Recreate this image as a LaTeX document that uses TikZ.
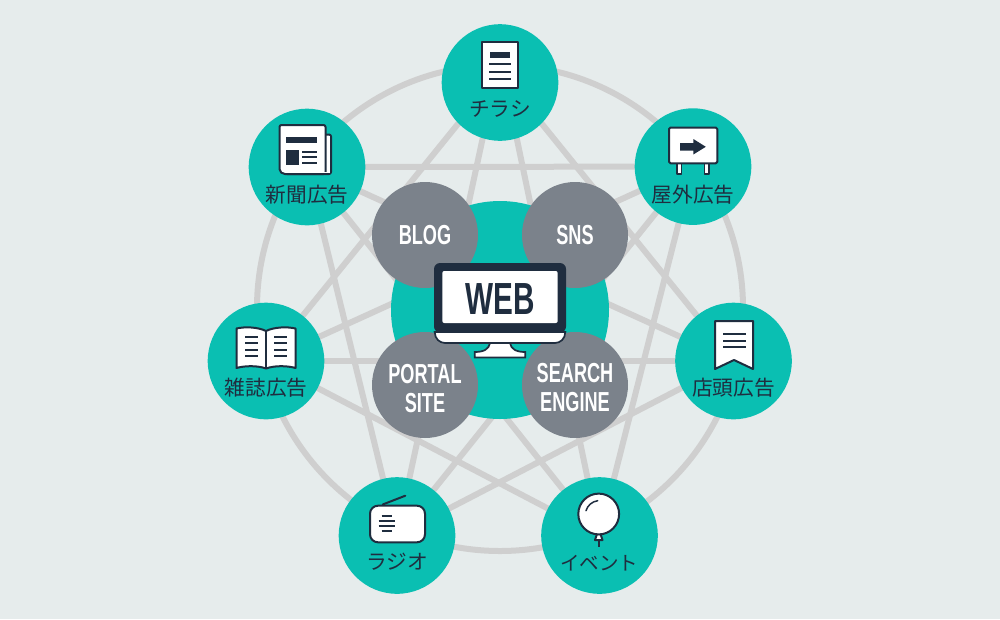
\documentclass[tikz,border=0pt]{standalone}
\usepackage{fontspec}
\setmainfont{Liberation Sans}
\newfontfamily\jpfont{Noto Sans CJK JP}
\newfontfamily\condfont[FakeStretch=0.66]{Liberation Sans Bold}
\usetikzlibrary{backgrounds}
\definecolor{bgc}{HTML}{E6ECEC}
\definecolor{tealc}{HTML}{0ABFB2}
\definecolor{grayc}{HTML}{7B828B}
\definecolor{darkc}{HTML}{1F2D3F}
\definecolor{linec}{HTML}{CFCFCF}
\tikzset{
  x=1pt,y=-1pt,
  medium/.style={circle,fill=tealc,minimum size=116.6pt,inner sep=0pt},
  hub/.style={circle,fill=tealc,minimum size=218pt,inner sep=0pt},
  blob/.style={circle,fill=grayc,minimum size=106pt,inner sep=0pt},
  ringnode/.style={circle,draw=linec,line width=6pt,minimum size=486pt,inner sep=0pt},
  chord/.style={draw=linec,line width=6pt},
  jplabel/.style={font=\jpfont\fontsize{20.7}{24}\selectfont,text=darkc,inner sep=0pt},
  blobtext/.style={font=\condfont\fontsize{27.5}{29}\selectfont,text=white,align=center,inner sep=0pt},
  ico/.style={draw=darkc,fill=white,line width=2pt,line join=round},
  icoline/.style={draw=darkc,line width=2pt},
  icofill/.style={fill=darkc},
}
\begin{document}
\begin{tikzpicture}
\useasboundingbox (0,0) rectangle (1000,619);

% media nodes
\node[medium] (flyer) at (500,82.5) {};
\node[medium] (sign) at (693,166.6) {};
\node[medium] (store) at (733.5,361) {};
\node[medium] (event) at (599.5,535.5) {};
\node[medium] (radio) at (397,535.5) {};
\node[medium] (magazine) at (266,361) {};
\node[medium] (newspaper) at (307,167) {};
\coordinate (flyerA) at (500,58);
\coordinate (flyerB) at (500,72);

% connectors behind everything
\begin{scope}[on background layer]
  \fill[bgc] (0,0) rectangle (1000,619);
  \node[ringnode] (ring) at (500,308) {};
  \draw[chord] (flyerB) -- (store.center);
  \draw[chord] (flyerA) -- (event.center);
  \draw[chord] (flyerA) -- (radio.center);
  \draw[chord] (flyerB) -- (magazine.center);
  \draw[chord] (sign.center) -- (event.center);
  \draw[chord] (sign.center) -- (radio.center);
  \draw[chord] (sign.center) -- (magazine.center);
  \draw[chord] (sign.center) -- (newspaper.center);
  \draw[chord] (store.center) -- (radio.center);
  \draw[chord] (store.center) -- (magazine.center);
  \draw[chord] (store.center) -- (newspaper.center);
  \draw[chord] (event.center) -- (magazine.center);
  \draw[chord] (event.center) -- (newspaper.center);
  \draw[chord] (radio.center) -- (newspaper.center);
\end{scope}

% centre
\node[hub] (web) at (500,310) {};
\node[blob] (blog) at (425,235) {};
\node[blob] (sns) at (575,235) {};
\node[blob] (portal) at (425,385) {};
\node[blob] (search) at (575,385) {};
\node[blobtext] (blogt) at (425,235) {BLOG};
\node[blobtext] (snst) at (575,235) {SNS};
\node[blobtext] (portalt) at (425,389) {PORTAL\\SITE};
\node[blobtext] (searcht) at (575,387.5) {SEARCH\\ENGINE};

% monitor
\draw[icoline,fill=white,line width=1.7pt] (474.7,357.5) -- (474.7,352) .. controls (484,352) and (489,349) .. (490,343) -- (510,343) .. controls (511,349) and (516,352) .. (525.3,352) -- (525.3,357.5) -- cycle;
\draw[icoline,fill=white,line width=1.7pt] (434.7,332) -- (565.3,332) .. controls (565.3,339) and (560,343) .. (555,343) -- (445,343) .. controls (440,343) and (434.7,339) .. (434.7,332) -- cycle;
\fill[darkc,rounded corners=6pt] (434,332.5) -- (434,263) -- (566,263) -- (566,332.5) -- cycle;
\fill[white,rounded corners=2pt] (442.3,323) -- (442.3,271) -- (557.7,271) -- (557.7,323) -- cycle;
\node[font=\condfont\fontsize{45}{45}\selectfont,text=darkc,inner sep=0pt] (webt) at (500,299.5) {WEB};

% flyer icon
\draw[ico] (482,42) rectangle (518.3,88);
\fill[icofill] (490,52) rectangle (510,58);
\draw[icoline] (489,64.3) -- (511,64.3) (489,71.5) -- (511,71.5) (489,78.7) -- (511,78.7);
\node[jplabel] (flyert) at (500,109) {チラシ};

% sign icon
\draw[ico,line width=1.7pt] (677,163) rectangle (681.5,174);
\draw[ico,line width=1.7pt] (704.5,163) rectangle (709,174);
\draw[ico,rounded corners=1.5pt] (669,127.5) rectangle (717.3,163.3);
\fill[icofill] (680,143) -- (693.3,143) -- (693.3,139) -- (705.8,146.8) -- (693.3,154.5) -- (693.3,150.7) -- (680,150.7) -- cycle;
\node[jplabel] (signt) at (693,195) {屋外広告};

% store icon
\draw[ico] (715,321) -- (753,321) -- (753,369) -- (734,360) -- (715,369) -- cycle;
\draw[icoline] (723,334) -- (745.7,334) (723,340.7) -- (745.7,340.7) (723,347) -- (745.7,347);
\node[jplabel] (storet) at (733.5,388) {店頭広告};

% balloon icon
\draw[icoline] (598.7,540) -- (598.7,546.5);
\draw[ico] (595,540) -- (602.5,540) -- (600.5,534) -- (597,534) -- cycle;
\draw[ico] (598.7,514) circle[radius=20.4pt];
\draw[icoline,line width=1.5pt,line cap=round] (586,510.7) .. controls (587.5,505.5) and (592,501.5) .. (597.7,500.7);
\node[jplabel,font=\jpfont\fontsize{19.5}{24}\selectfont] (eventt) at (599,563) {イベント};

% radio icon
\draw[icoline,line cap=round] (382.7,504.5) -- (405.3,495.7);
\draw[ico,rounded corners=8pt] (370,505.7) rectangle (425,542.3);
\draw[icoline,line width=1.8pt] (381.7,516) -- (392,516) (378.5,521.3) -- (395,521.3) (378.5,526) -- (395,526) (381.7,531.3) -- (392,531.3);
\node[jplabel] (radiot) at (397,561.7) {ラジオ};

% book icon
\draw[ico] (266,331) .. controls (258,327) and (245,326.5) .. (236.5,328.5) -- (236.5,368) .. controls (245,365.5) and (258,365.5) .. (266,368.5) .. controls (274,365.5) and (287,365.5) .. (295.5,368) -- (295.5,328.5) .. controls (287,326.5) and (274,327) .. (266,331) -- cycle;
\draw[icoline] (266,331) -- (266,368);
\draw[icoline] (245,337) -- (258.3,337) (245,343.3) -- (258.3,343.3) (245,349.5) -- (258.3,349.5) (245,355.5) -- (258.3,355.5);
\draw[icoline] (274,337) -- (287.3,337) (274,343.3) -- (287.3,343.3) (274,349.5) -- (287.3,349.5) (274,355.5) -- (287.3,355.5);
\node[jplabel] (magazinet) at (266,388) {雑誌広告};

% newspaper icon
\draw[ico,rounded corners=2pt] (320,134.5) -- (331,134.5) -- (331,174) -- (285,174) -- (285,134.5) -- cycle;
\draw[ico,rounded corners=2pt] (279.5,125) -- (325.5,125) -- (325.5,174) -- (283,174) -- (279.5,171) -- cycle;
\fill[white] (327,136) rectangle (329.7,172.5);
\fill[white] (320,172.3) rectangle (329.7,173.2);
\fill[icofill] (285.7,136.7) rectangle (317.3,143);
\fill[icofill] (285.7,150) rectangle (299,165);
\draw[icoline,line width=1.7pt] (302,151.7) -- (317.3,151.7) (302,157.3) -- (317.3,157.3) (302,162.9) -- (317.3,162.9);
\node[jplabel] (newspapert) at (307,195) {新聞広告};
\end{tikzpicture}
\end{document}
